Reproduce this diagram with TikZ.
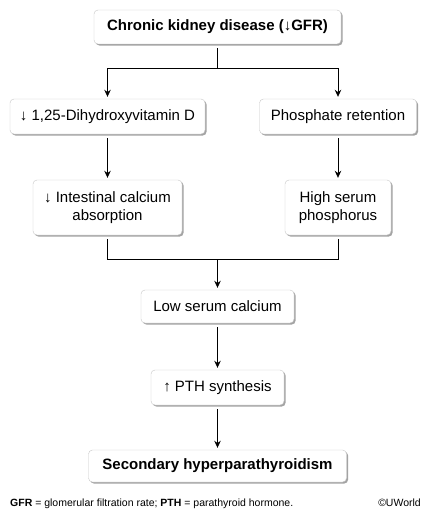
\documentclass[tikz,border=0pt]{standalone}
\usepackage{fontspec}
\setmainfont{Liberation Sans}
\usetikzlibrary{arrows.meta,shadows}
\begin{document}
\begin{tikzpicture}[x=1pt, y=-1pt,
    box/.style = {draw=black!22, fill=white, rounded corners=4pt, align=center,
        font=\fontsize{15}{18}\selectfont, inner sep=2pt,
        drop shadow={shadow xshift=1.6pt, shadow yshift=-1.6pt, fill=black!45, opacity=0.8}},
    link/.style = {line width=0.8pt, shorten <=4pt},
    arr/.style = {link, -{Stealth[length=7pt, width=6.5pt]}, shorten >=2pt}]
    \useasboundingbox (0,0) rectangle (427,519);
    \node[box, minimum width=247pt, minimum height=34pt] (ckd) at (217.5,27) {\textbf{Chronic kidney disease (↓GFR)}};
    \node[box, minimum width=195pt, minimum height=35pt] (vitd) at (107.5,116.5) {↓ 1,25-Dihydroxyvitamin D};
    \node[box, minimum width=157pt, minimum height=35pt] (phos) at (338,116.5) {Phosphate retention};
    \node[box, minimum width=149pt, minimum height=55pt] (absorb) at (107.5,207.5) {↓ Intestinal calcium\\absorption};
    \node[box, minimum width=106pt, minimum height=55pt] (serum) at (338,207.5) {High serum\\phosphorus};
    \node[box, minimum width=153pt, minimum height=33pt] (lowca) at (217.5,306.5) {Low serum calcium};
    \node[box, minimum width=133pt, minimum height=35pt] (pth) at (217.5,387.5) {↑ PTH synthesis};
    \node[box, minimum width=258pt, minimum height=32pt] (shpt) at (217.5,466) {\textbf{Secondary hyperparathyroidism}};
    \coordinate (split) at (217.5,68);
    \coordinate (merge) at (217.5,259);
    \draw[link] (ckd) -- (split);
    \draw[arr, shorten <=0pt] (split) -| (vitd);
    \draw[arr, shorten <=0pt] (split) -| (phos);
    \draw[arr] (vitd) -- (absorb);
    \draw[arr] (phos) -- (serum);
    \draw[link] (absorb) |- (merge);
    \draw[link] (serum) |- (merge);
    \draw[arr, shorten <=0pt] (merge) -- (lowca);
    \draw[arr] (lowca) -- (pth);
    \draw[arr] (pth) -- (shpt);
    \node[anchor=base west, inner sep=0pt, font=\fontsize{10.5}{12}\selectfont] (note) at (10,506)
        {\textbf{GFR} = glomerular filtration rate; \textbf{PTH} = parathyroid hormone.};
    \node[anchor=base east, inner sep=0pt, font=\fontsize{10.5}{12}\selectfont] (copy) at (421,506) {©UWorld};
\end{tikzpicture}
\end{document}
